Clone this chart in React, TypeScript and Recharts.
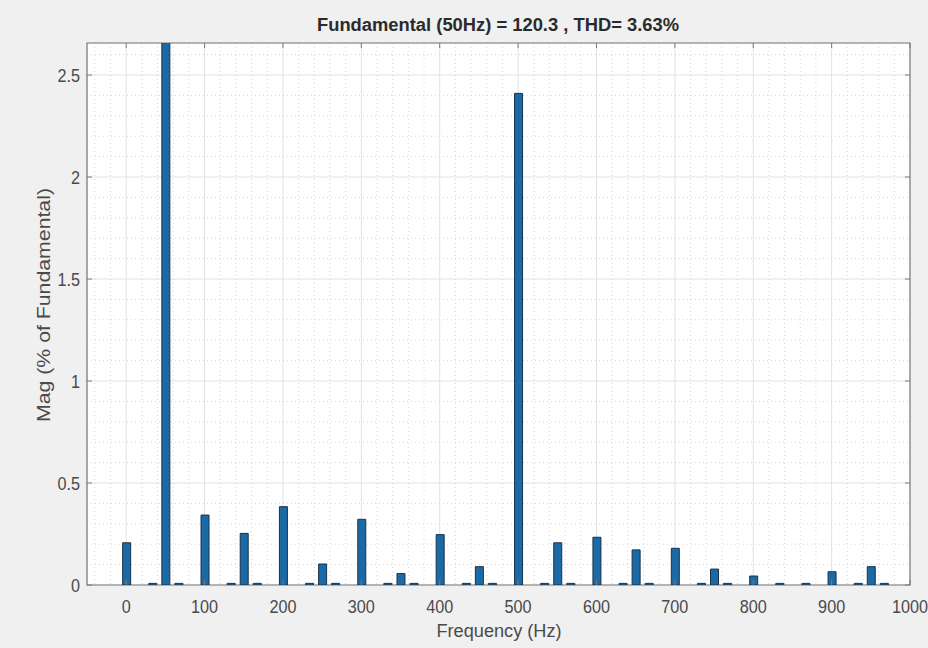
import React from 'react';
import {
  BarChart,
  Bar,
  XAxis,
  YAxis,
  CartesianGrid,
  ReferenceArea,
} from 'recharts';

// harmonics (Hz) and their magnitude in % of fundamental
const harmonicFreqs = [0, 50, 100, 150, 200, 250, 300, 350, 400, 450, 500, 550, 600, 650, 700, 750, 800, 850, 900, 950];
const harmonicMags = [0.207, 100, 0.343, 0.253, 0.384, 0.103, 0.322, 0.056, 0.247, 0.09, 2.41, 0.207, 0.234, 0.172, 0.18, 0.078, 0.044, 0, 0.065, 0.09];

// small interharmonic bins around the odd harmonics
const interFreqs = [33.3, 66.7, 133.3, 166.7, 233.3, 266.7, 333.3, 366.7, 433.3, 466.7, 533.3, 566.7, 633.3, 666.7, 733.3, 766.7, 833.3, 866.7, 933.3, 966.7];
const interMags = [0.008, 0.008, 0.008, 0.008, 0.008, 0.008, 0.008, 0.008, 0.008, 0.008, 0.008, 0.008, 0.008, 0.008, 0.008, 0.008, 0.008, 0.008, 0.008, 0.008];

const xTicks = [0, 100, 200, 300, 400, 500, 600, 700, 800, 900, 1000];
const yTicks = [0, 0.5, 1, 1.5, 2, 2.5];

const title = 'Fundamental (50Hz) = 120.3 , THD= 3.63%';

const X_MIN = -50;
const X_MAX = 1000;
const Y_MAX = 2.657;

// plot box in page pixels
const LEFT = 87;
const RIGHT = 910;
const TOP = 43;
const BOTTOM = 585;

const data = [
  ...harmonicFreqs.map((f, i) => ({ f, mag: harmonicMags[i] })),
  ...interFreqs.map((f, i) => ({ f, mag: interMags[i] })),
].sort((a, b) => a.f - b.f);

// minor grid positions
const minorX: number[] = [];
for (let v = -40; v < X_MAX; v += 20) if (v % 100 !== 0) minorX.push(v);
const minorY: number[] = [];
for (let k = 1; k < 27; k++) if (k % 5 !== 0) minorY.push(k / 10);

const tickColor = '#4a4a4a';
const lineColor = '#7a7a7a';

const XTick = (props: any) => {
  const { x, payload } = props;
  return (
    <g>
      <line x1={x} x2={x} y1={BOTTOM} y2={BOTTOM - 5} stroke={lineColor} />
      <line x1={x} x2={x} y1={TOP} y2={TOP + 5} stroke={lineColor} />
      <text
        transform={`translate(${x},613) scale(0.9,1)`}
        textAnchor="middle"
        fill={tickColor}
        fontSize={18}
        fontFamily="'Liberation Sans', Arial, sans-serif"
      >
        {payload.value}
      </text>
    </g>
  );
};

const YTick = (props: any) => {
  const { y, payload } = props;
  return (
    <g>
      <line x1={LEFT} x2={LEFT + 5} y1={y} y2={y} stroke={lineColor} />
      <line x1={RIGHT} x2={RIGHT - 5} y1={y} y2={y} stroke={lineColor} />
      <text
        transform={`translate(80,${y + 6.5}) scale(0.9,1)`}
        textAnchor="end"
        fill={tickColor}
        fontSize={18}
        fontFamily="'Liberation Sans', Arial, sans-serif"
      >
        {payload.value}
      </text>
    </g>
  );
};

export default function App() {
  return (
    <div
      style={{
        position: 'absolute',
        left: 0,
        top: 0,
        width: 928,
        height: 648,
        background: '#f0f0f0',
        fontFamily: "'Liberation Sans', Arial, sans-serif",
      }}
    >
      <BarChart
        width={928}
        height={648}
        data={data}
        margin={{ top: TOP, right: 928 - RIGHT, bottom: 23, left: 27 }}
      >
        <CartesianGrid fill="#ffffff" stroke="#e2e2e2" />
        <CartesianGrid
          horizontalValues={minorY}
          verticalValues={minorX}
          stroke="#d6d6d6"
          strokeDasharray="1 3"
        />
        <XAxis
          dataKey="f"
          type="number"
          scale="linear"
          domain={[X_MIN, X_MAX]}
          ticks={xTicks}
          interval={0}
          allowDataOverflow
          axisLine={false}
          tickLine={false}
          tick={<XTick />}
          height={40}
        />
        <YAxis
          type="number"
          domain={[0, Y_MAX]}
          ticks={yTicks}
          interval={0}
          allowDataOverflow
          axisLine={false}
          tickLine={false}
          tick={<YTick />}
          width={60}
        />
        <Bar
          dataKey="mag"
          barSize={8}
          fill="#1b6aa5"
          stroke="#18334b"
          strokeWidth={1}
          isAnimationActive={false}
        />
        <ReferenceArea
          x1={X_MIN}
          x2={X_MAX}
          y1={0}
          y2={Y_MAX}
          fill="none"
          fillOpacity={0}
          stroke={lineColor}
          strokeWidth={1.2}
        />
        <text
          x={498}
          y={31}
          textAnchor="middle"
          fontSize={18}
          fontWeight="bold"
          fill="#2b2b2b"
          textLength={362}
          lengthAdjust="spacingAndGlyphs"
        >
          {title}
        </text>
        <text
          x={499}
          y={637}
          textAnchor="middle"
          fontSize={18}
          fill={tickColor}
          textLength={125}
          lengthAdjust="spacingAndGlyphs"
        >
          Frequency (Hz)
        </text>
        <text
          transform="translate(50,305) rotate(-90)"
          textAnchor="middle"
          fontSize={19}
          fill={tickColor}
          textLength={234}
          lengthAdjust="spacingAndGlyphs"
        >
          Mag (% of Fundamental)
        </text>
      </BarChart>
    </div>
  );
}
